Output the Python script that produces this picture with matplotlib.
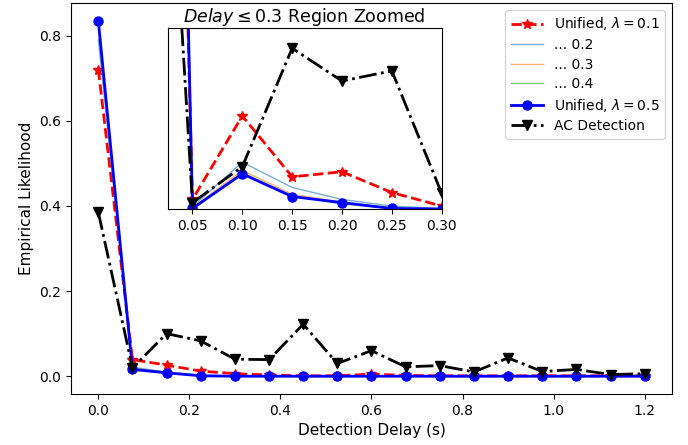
import numpy as np
import matplotlib.pyplot as plt

# main plot data (step 0.075 s)
delay = np.arange(17) * 0.075
uni_01 = [0.72, 0.039, 0.026, 0.012, 0.006, 0.003, 0.001, 0.001, 0.005,
          0.002, 0.001, 0.001, 0.001, 0.001, 0.001, 0.001, 0.001]
uni_02 = [0.79, 0.021, 0.010, 0.002, 0.001, 0, 0, 0, 0, 0, 0, 0, 0, 0, 0, 0, 0]
uni_03 = [0.82, 0.019, 0.009, 0.001, 0, 0, 0, 0, 0, 0, 0, 0, 0, 0, 0, 0, 0]
uni_04 = [0.83, 0.017, 0.008, 0.001, 0, 0, 0, 0, 0, 0, 0, 0, 0, 0, 0, 0, 0]
uni_05 = [0.835, 0.016, 0.008, 0.001, 0, 0, 0, 0, 0, 0, 0, 0, 0, 0, 0, 0, 0]
ac_det = [0.385, 0.020, 0.100, 0.083, 0.040, 0.039, 0.122, 0.030, 0.060,
          0.022, 0.025, 0.010, 0.043, 0.011, 0.016, 0.004, 0.006]

# zoomed region data (step 0.05 s)
z_delay = [0.0, 0.05, 0.10, 0.15, 0.20, 0.25, 0.30]
z_uni_01 = [0.72, 0.0037, 0.0351, 0.0122, 0.0141, 0.0063, 0.0012]
z_uni_02 = [0.79, 0.0010, 0.0177, 0.0082, 0.0037, 0.0012, 0.0003]
z_uni_03 = [0.82, 0.0007, 0.0146, 0.0056, 0.0027, 0.0005, 0.0001]
z_uni_04 = [0.83, 0.0005, 0.0138, 0.0050, 0.0020, 0.0004, 0.0001]
z_uni_05 = [0.835, 0.0003, 0.0133, 0.0048, 0.0025, 0.0003, 0.0001]
z_ac_det = [0.31, 0.0025, 0.0160, 0.0605, 0.0482, 0.0520, 0.0060]


def draw(ax, x, u1, u2, u3, u4, u5, ac):
    ax.plot(x, u1, '--', color='red', marker='*', lw=2, ms=7,
            label=r'Unified, $\lambda=0.1$')
    ax.plot(x, u2, '-', color='tab:blue', lw=1, alpha=0.6, label='... 0.2')
    ax.plot(x, u3, '-', color='tab:orange', lw=1, alpha=0.6, label='... 0.3')
    ax.plot(x, u4, '-', color='tab:green', lw=1, alpha=0.6, label='... 0.4')
    ax.plot(x, u5, '-', color='blue', marker='o', lw=2, ms=6.5,
            label=r'Unified, $\lambda=0.5$')
    ax.plot(x, ac, '-.', color='black', marker='v', lw=2, ms=7,
            label='AC Detection')


fig = plt.figure(figsize=(6.88, 4.45), dpi=100)
ax = fig.add_axes([0.1032, 0.1146, 0.8735, 0.8787])
draw(ax, delay, uni_01, uni_02, uni_03, uni_04, uni_05, ac_det)
ax.set_xlabel('Detection Delay (s)', fontsize=11)
ax.set_ylabel('Empirical Likelihood', fontsize=11)
ax.legend(loc='upper right', fontsize=10, labelspacing=0.4, handlelength=2.3)

ins = fig.add_axes([0.2435, 0.5297, 0.3985, 0.4067])
draw(ins, z_delay, z_uni_01, z_uni_02, z_uni_03, z_uni_04, z_uni_05, z_ac_det)
ins.set_xlim(0.025, 0.30)
ins.set_ylim(0, 0.068)
ins.set_xticks([0.05, 0.10, 0.15, 0.20, 0.25, 0.30])
ins.set_yticks([])
ins.set_title(r'$Delay \leq 0.3$ Region Zoomed', fontsize=12.5, pad=3)

plt.savefig('out.png')
